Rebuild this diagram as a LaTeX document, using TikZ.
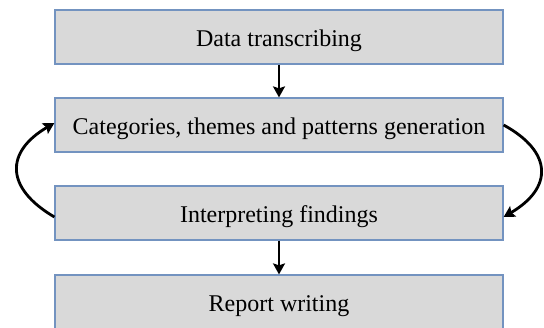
\documentclass[tikz,border=0pt]{standalone}
\usepackage{fontspec}
\setmainfont{Liberation Serif}
\usetikzlibrary{arrows.meta}
\definecolor{boxfill}{HTML}{D9D9D9}
\definecolor{boxline}{HTML}{7393C0}
\begin{document}
\begin{tikzpicture}[x=1pt,y=1pt,
  stepbox/.style={draw=boxline, line width=1.2pt, fill=boxfill,
    minimum width=448pt, minimum height=54pt, inner sep=0pt,
    text height=19pt, text depth=0pt, font=\fontsize{24}{28}\selectfont},
  flow/.style={line width=2.8pt, -{Stealth[length=11pt,width=12pt,inset=2pt]}}]
\useasboundingbox (0,0) rectangle (544,328);
\clip (0,0) rectangle (544,328);
\node[stepbox] (b1) at (279,291) {Data transcribing};
\node[stepbox] (b2) at (279,203) {Categories, themes and patterns generation};
\node[stepbox] (b3) at (279,115) {Interpreting findings};
\node[stepbox] (b4) at (279,26) {Report writing};
\draw[flow] (b1) -- (b2);
\draw[flow] (b3) -- (b4);
\draw[flow] ([yshift=-4pt]b3.west) .. controls (5,140) and (5,176) .. ([yshift=2pt]b2.west);
\draw[flow] (b2.east) .. controls (553,176) and (553,140) .. ([yshift=-4pt]b3.east);
\end{tikzpicture}
\end{document}
